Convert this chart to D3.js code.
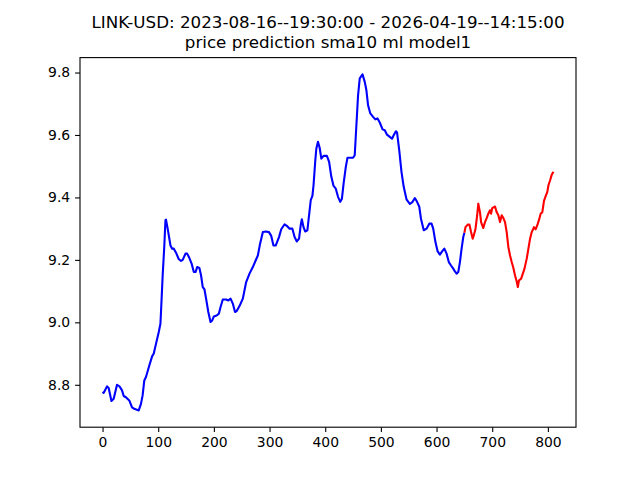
<!DOCTYPE html>
<html>
<head>
<meta charset="utf-8">
<script src="https://cdn.jsdelivr.net/npm/d3@7"></script>
<style>
  body { margin: 0; background: #fff; }
  svg { display: block; font-family: "DejaVu Sans", sans-serif; }
</style>
</head>
<body>
<div id="chart"></div>
<script>
// Chart data
const titleLines = [
  'LINK-USD: 2023-08-16--19:30:00 - 2026-04-19--14:15:00',
  'price prediction sma10 ml model1'
];

// history (blue)
const histX = [0, 2, 8, 11, 16, 20, 26, 30, 35, 38, 42, 48, 53, 57, 65, 69, 72, 75, 78, 84, 89, 92, 96, 101, 104,
  105, 108, 111, 113, 114, 117, 122, 125, 128, 132, 137, 141, 144, 149, 152, 156, 160, 164, 167, 170, 174, 177,
  180, 183, 186, 190, 194, 197, 200, 205, 209, 212, 216, 222, 226, 230, 234, 238, 241, 246, 252, 258, 264, 270,
  275, 279, 283, 288, 293, 299, 303, 307, 311, 317, 321, 327, 331, 336, 341, 345, 349, 353, 356, 358, 361, 364,
  368, 371, 374, 377, 379, 382, 384, 387, 390, 393, 397, 403, 407, 411, 415, 419, 423, 427, 430, 433, 437, 440,
  444, 450, 453, 456, 459, 462, 467, 471, 474, 477, 481, 486, 490, 494, 498, 503, 507, 511, 516, 520, 523, 527,
  529, 533, 537, 541, 546, 552, 557, 561, 565, 569, 572, 577, 582, 587, 591, 594, 598, 602, 606, 610, 614, 618,
  622, 626, 630, 633, 636, 639, 642, 645, 648, 650];
const histY = [8.777, 8.774, 8.795, 8.79, 8.748, 8.755, 8.80, 8.796, 8.782, 8.764, 8.76, 8.75, 8.728, 8.723, 8.718,
  8.739, 8.766, 8.814, 8.825, 8.862, 8.891, 8.90, 8.931, 8.969, 8.996,
  9.033, 9.15, 9.246, 9.327, 9.329, 9.30, 9.246, 9.236, 9.236, 9.223, 9.202, 9.197, 9.20, 9.22, 9.22, 9.206,
  9.188, 9.161, 9.161, 9.177, 9.174, 9.15,
  9.113, 9.106, 9.076, 9.033, 9.001, 9.006, 9.019, 9.022, 9.028, 9.049, 9.073, 9.073, 9.07, 9.076, 9.06, 9.033,
  9.036, 9.052, 9.076, 9.129, 9.156, 9.177,
  9.198, 9.214, 9.252, 9.289, 9.291, 9.289, 9.277, 9.246, 9.246, 9.273, 9.298, 9.314, 9.309, 9.30, 9.30, 9.273,
  9.259, 9.268, 9.311, 9.33, 9.305, 9.291,
  9.295, 9.343, 9.391, 9.405, 9.439, 9.514, 9.556, 9.578, 9.559, 9.524, 9.533, 9.533, 9.514, 9.466, 9.437, 9.428,
  9.402, 9.386, 9.396, 9.444, 9.498, 9.527,
  9.527, 9.527, 9.535, 9.631, 9.727, 9.781, 9.794, 9.77, 9.743, 9.695, 9.669, 9.658, 9.65, 9.653, 9.64, 9.618,
  9.615, 9.601, 9.594, 9.588, 9.599, 9.612,
  9.608, 9.551, 9.482, 9.434, 9.394, 9.379, 9.386, 9.398, 9.386, 9.37, 9.332, 9.295, 9.30, 9.316, 9.316, 9.30,
  9.257, 9.227, 9.217, 9.227, 9.236, 9.22,
  9.193, 9.182, 9.172, 9.163, 9.156, 9.161, 9.193, 9.236, 9.273, 9.287];

// prediction (red)
const predX = [650, 652, 656, 659, 662, 665, 667, 670, 673, 675, 678, 680, 684, 687, 690, 693, 696, 698, 700, 705,
  708, 711, 714, 717, 720, 723, 726, 729, 732, 735, 738, 741, 744, 746, 748, 752, 755, 758, 762, 765, 768, 771,
  775, 778, 781, 784, 787, 790, 793, 796, 799, 801, 804, 807, 810];
const predY = [9.287, 9.305, 9.313, 9.313, 9.289, 9.268, 9.279, 9.30, 9.343, 9.38, 9.353, 9.321, 9.302, 9.321,
  9.334, 9.348, 9.359, 9.348, 9.366, 9.371,
  9.353, 9.343, 9.321, 9.343, 9.334, 9.321, 9.289, 9.241, 9.214, 9.193, 9.174, 9.15, 9.131, 9.113, 9.134, 9.14,
  9.156, 9.172, 9.204, 9.236, 9.268, 9.289,
  9.305, 9.298, 9.311, 9.328, 9.348, 9.353, 9.389, 9.404, 9.418, 9.439, 9.455, 9.473, 9.482];

const xTicks = [0, 100, 200, 300, 400, 500, 600, 700, 800];
const yTicks = [8.8, 9.0, 9.2, 9.4, 9.6, 9.8];

const width = 640, height = 480;
const margin = { left: 80, right: 64, top: 57.6, bottom: 52.8 };
const innerW = width - margin.left - margin.right;
const innerH = height - margin.top - margin.bottom;

const svg = d3.select('#chart').append('svg')
  .attr('width', width)
  .attr('height', height);

// matplotlib style 5% padding around the data
const allX = histX.concat(predX), allY = histY.concat(predY);
const [x0, x1] = d3.extent(allX), [y0, y1] = d3.extent(allY);
const px = (x1 - x0) * 0.05, py = (y1 - y0) * 0.05;

const x = d3.scaleLinear().domain([x0 - px, x1 + px]).range([0, innerW]);
const y = d3.scaleLinear().domain([y0 - py, y1 + py]).range([innerH, 0]);

const g = svg.append('g').attr('transform', `translate(${margin.left},${margin.top})`);

// Axes
const xAxis = g.append('g')
  .attr('transform', `translate(0,${innerH})`)
  .call(d3.axisBottom(x).tickValues(xTicks).tickFormat(d3.format('d')).tickSizeOuter(0).tickSize(4.9).tickPadding(4.9));
const yAxis = g.append('g')
  .call(d3.axisLeft(y).tickValues(yTicks).tickFormat(d3.format('.1f')).tickSizeOuter(0).tickSize(4.9).tickPadding(4.9));

[xAxis, yAxis].forEach(a => {
  a.select('.domain').remove();
  a.selectAll('text').attr('font-size', '13.9px').attr('fill', '#000').attr('font-family', '"DejaVu Sans", sans-serif');
  a.selectAll('line').attr('stroke', '#000').attr('stroke-width', 1.1);
});

// Lines
const line = d3.line().x(d => x(d[0])).y(d => y(d[1]));

g.append('path')
  .datum(d3.zip(histX, histY))
  .attr('fill', 'none')
  .attr('stroke', '#0000ff')
  .attr('stroke-width', 2.1)
  .attr('stroke-linejoin', 'round')
  .attr('d', line);

g.append('path')
  .datum(d3.zip(predX, predY))
  .attr('fill', 'none')
  .attr('stroke', '#ff0000')
  .attr('stroke-width', 2.1)
  .attr('stroke-linejoin', 'round')
  .attr('d', line);

// Frame
g.append('rect')
  .attr('width', innerW)
  .attr('height', innerH)
  .attr('fill', 'none')
  .attr('stroke', '#000')
  .attr('stroke-width', 1.1);

// Title
svg.append('g').selectAll('text')
  .data(titleLines)
  .join('text')
  .attr('x', margin.left + innerW / 2)
  .attr('y', (d, i) => 28 + i * 20.3)
  .attr('text-anchor', 'middle')
  .attr('font-size', '16.7px')
  .attr('fill', '#000')
  .text(d => d);
</script>
</body>
</html>
